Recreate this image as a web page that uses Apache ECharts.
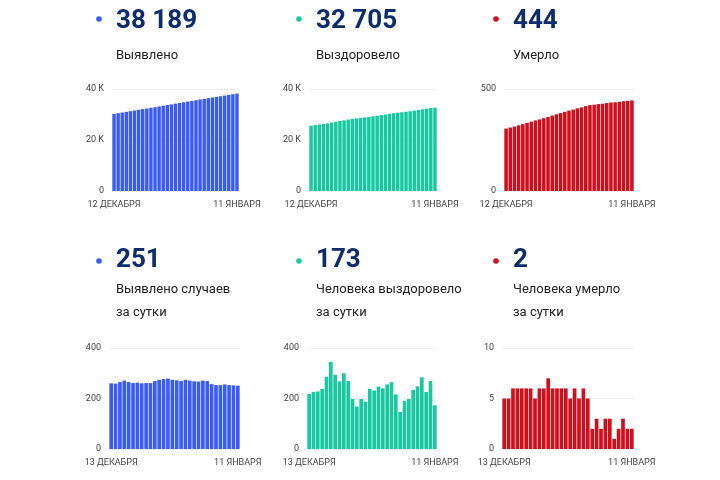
<!DOCTYPE html>
<html>
<head>
<meta charset="utf-8">
<script src="https://cdn.jsdelivr.net/npm/echarts@6/dist/echarts.min.js"></script>
<style>
html,body{margin:0;padding:0;background:#fff;}
#c{width:720px;height:480px;}
</style>
</head>
<body>
<div id="c"></div>
<script>
// ---- data ----
const datesTotal = ['12 ДЕКАБРЯ','13 ДЕКАБРЯ','14 ДЕКАБРЯ','15 ДЕКАБРЯ','16 ДЕКАБРЯ','17 ДЕКАБРЯ','18 ДЕКАБРЯ','19 ДЕКАБРЯ','20 ДЕКАБРЯ','21 ДЕКАБРЯ','22 ДЕКАБРЯ','23 ДЕКАБРЯ','24 ДЕКАБРЯ','25 ДЕКАБРЯ','26 ДЕКАБРЯ','27 ДЕКАБРЯ','28 ДЕКАБРЯ','29 ДЕКАБРЯ','30 ДЕКАБРЯ','31 ДЕКАБРЯ','1 ЯНВАРЯ','2 ЯНВАРЯ','3 ЯНВАРЯ','4 ЯНВАРЯ','5 ЯНВАРЯ','6 ЯНВАРЯ','7 ЯНВАРЯ','8 ЯНВАРЯ','9 ЯНВАРЯ','10 ЯНВАРЯ','11 ЯНВАРЯ'];
const datesDaily = ['13 ДЕКАБРЯ','14 ДЕКАБРЯ','15 ДЕКАБРЯ','16 ДЕКАБРЯ','17 ДЕКАБРЯ','18 ДЕКАБРЯ','19 ДЕКАБРЯ','20 ДЕКАБРЯ','21 ДЕКАБРЯ','22 ДЕКАБРЯ','23 ДЕКАБРЯ','24 ДЕКАБРЯ','25 ДЕКАБРЯ','26 ДЕКАБРЯ','27 ДЕКАБРЯ','28 ДЕКАБРЯ','29 ДЕКАБРЯ','30 ДЕКАБРЯ','31 ДЕКАБРЯ','1 ЯНВАРЯ','2 ЯНВАРЯ','3 ЯНВАРЯ','4 ЯНВАРЯ','5 ЯНВАРЯ','6 ЯНВАРЯ','7 ЯНВАРЯ','8 ЯНВАРЯ','9 ЯНВАРЯ','10 ЯНВАРЯ','11 ЯНВАРЯ'];

const casesTotal = [30254,30514,30773,31038,31309,31574,31835,32098,32358,32619,32880,33149,33423,33700,33979,34253,34525,34794,35068,35339,35607,35874,36145,36414,36671,36924,37177,37433,37686,37938,38189];
const recoveredTotal = [25618,25836,26062,26290,26528,26814,27159,27453,27721,28021,28290,28488,28656,28854,29041,29279,29511,29758,29998,30254,30519,30735,30882,31073,31271,31505,31753,32037,32263,32532,32705];
const deathsTotal = [306,311,316,322,328,334,340,346,351,357,363,370,376,382,388,394,399,405,410,416,421,423,426,428,431,434,435,437,440,442,444];

const casesDaily = [260,259,265,271,265,261,263,260,261,261,269,274,277,279,274,272,269,274,271,268,267,271,269,257,253,253,256,253,252,251];
const recoveredDaily = [218,226,228,238,286,345,294,268,300,269,198,168,198,187,238,232,247,240,256,265,216,147,191,198,234,248,284,226,269,173];
const deathsDaily = [5,5,6,6,6,6,6,5,6,6,7,6,6,6,6,5,6,5,6,5,2,3,2,3,3,1,2,3,2,2];

const headNumbers = ['38 189','32 705','444','251','173','2'];
const headLabels = ['Выявлено','Выздоровело','Умерло','Выявлено случаев\nза сутки','Человека выздоровело\nза сутки','Человека умерло\nза сутки'];

const yMax = [40000,40000,500,400,400,10];
const yInterval = [20000,20000,500,200,200,5];

// ---- layout ----
const BLUE = '#3a5cf4', TEAL = '#16c9a1', RED = '#cf0f1c';
const colors = [BLUE, TEAL, RED, BLUE, TEAL, RED];
const grids = [
  {left:112, top:89, width:127, height:102},
  {left:309, top:89, width:128, height:102},
  {left:504, top:89, width:130, height:102},
  {left:109, top:348, width:131, height:101},
  {left:307, top:348, width:130, height:101},
  {left:502, top:348, width:132, height:101}
];
const headX = [116, 316, 513, 116, 316, 513];
const numY = [21, 21, 21, 260, 260, 260];
const labelY = [56, 56, 56, 301, 301, 301];
const dotY = [19, 19, 19, 261, 261, 261];
const seriesData = [casesTotal, recoveredTotal, deathsTotal, casesDaily, recoveredDaily, deathsDaily];
const cats = [datesTotal, datesTotal, datesTotal, datesDaily, datesDaily, datesDaily];

const FONT = 'Roboto, "Noto Sans", sans-serif';
const xAxes = [], yAxes = [], series = [], graphics = [];
for (let i = 0; i < 6; i++) {
  const n = cats[i].length;
  xAxes.push({
    type:'category', gridIndex:i, data:cats[i],
    axisLine:{show:false}, axisTick:{show:false},
    axisLabel:{
      interval:(idx)=> idx===0 || idx===n-1,
      color:'#444', fontSize:9, fontFamily:FONT, margin:9
    }
  });
  yAxes.push({
    type:'value', gridIndex:i, min:0, max:yMax[i], interval:yInterval[i],
    axisLine:{show:false}, axisTick:{show:false},
    splitLine:{lineStyle:{color:'#eeeeee', width:1}},
    axisLabel:{
      color:'#444', fontSize:9, fontFamily:FONT, margin:8,
      formatter:(v)=> (yMax[i] >= 10000 && v !== 0) ? (v/1000)+' K' : String(v)
    }
  });
  series.push({
    type:'bar', xAxisIndex:i, yAxisIndex:i, data:seriesData[i],
    barCategoryGap:'16%', itemStyle:{color:colors[i]}, silent:true, animation:false
  });
  graphics.push({
    type:'circle', shape:{cx:headX[i]-17, cy:dotY[i], r:2.8}, style:{fill:colors[i]}
  });
  graphics.push({
    type:'text', x:headX[i], y:numY[i],
    style:{text:headNumbers[i], fill:'#0d2b6f', font:'bold 26px '+FONT, textVerticalAlign:'middle', textAlign:'left'}
  });
  graphics.push({
    type:'text', x:headX[i], y:labelY[i],
    style:{text:headLabels[i], fill:'#222222', font:'13px '+FONT, lineHeight:23, textVerticalAlign:'middle', textAlign:'left'}
  });
}

const chart = echarts.init(document.getElementById('c'), null, {renderer:'canvas'});
chart.setOption({
  animation:false,
  backgroundColor:'#ffffff',
  grid:grids,
  xAxis:xAxes,
  yAxis:yAxes,
  series:series,
  graphic:graphics
});
</script>
</body>
</html>
